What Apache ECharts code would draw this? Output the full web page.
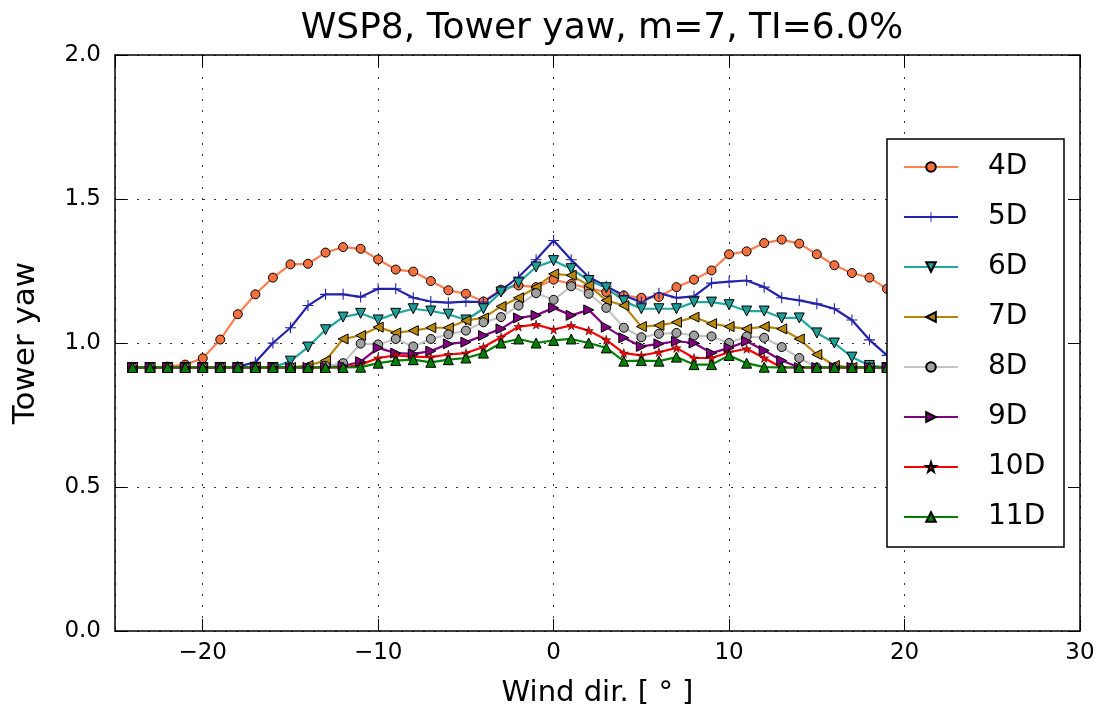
<!DOCTYPE html>
<html>
<head>
<meta charset="utf-8">
<script src="https://cdn.jsdelivr.net/npm/echarts@6/dist/echarts.min.js"></script>
<style>html,body{margin:0;padding:0;background:#fff;}#c{width:1100px;height:716px;}</style>
</head>
<body>
<div id="c"></div>
<script>
// Wind direction (deg), -24 .. 24
const windDir = [-24,-23,-22,-21,-20,-19,-18,-17,-16,-15,-14,-13,-12,-11,-10,-9,-8,-7,-6,-5,-4,-3,-2,-1,0,1,2,3,4,5,6,7,8,9,10,11,12,13,14,15,16,17,18,19,20,21,22,23,24];
const seriesNames = ['4D','5D','6D','7D','8D','9D','10D','11D'];
const yaw4D = [0.915,0.915,0.918,0.925,0.947,1.012,1.100,1.169,1.227,1.273,1.275,1.314,1.333,1.327,1.290,1.255,1.248,1.215,1.183,1.171,1.144,1.185,1.200,1.194,1.220,1.205,1.190,1.177,1.165,1.157,1.160,1.194,1.220,1.252,1.308,1.318,1.347,1.359,1.345,1.308,1.270,1.243,1.227,1.188,1.120,1.050,0.980,0.935,0.918];
const yaw5D = [0.915,0.915,0.915,0.915,0.915,0.915,0.918,0.933,1.000,1.053,1.130,1.169,1.169,1.160,1.188,1.188,1.157,1.144,1.140,1.144,1.142,1.183,1.229,1.289,1.356,1.289,1.229,1.197,1.165,1.142,1.173,1.157,1.162,1.208,1.213,1.217,1.194,1.157,1.148,1.136,1.119,1.080,1.011,0.957,0.920,0.915,0.915,0.915,0.915];
const yaw6D = [0.915,0.915,0.915,0.915,0.915,0.915,0.915,0.915,0.915,0.937,0.986,1.046,1.090,1.103,1.080,1.103,1.119,1.111,1.100,1.080,1.119,1.177,1.209,1.264,1.286,1.258,1.217,1.192,1.146,1.119,1.119,1.119,1.142,1.142,1.133,1.111,1.111,1.087,1.087,1.035,1.000,0.951,0.922,0.915,0.915,0.915,0.915,0.915,0.915];
const yaw7D = [0.915,0.915,0.915,0.915,0.915,0.915,0.915,0.915,0.915,0.915,0.922,0.939,1.014,1.026,1.055,1.035,1.043,1.053,1.053,1.078,1.087,1.127,1.157,1.194,1.240,1.235,1.200,1.148,1.130,1.057,1.061,1.072,1.090,1.067,1.057,1.049,1.057,1.049,1.014,0.960,0.922,0.915,0.915,0.915,0.915,0.915,0.915,0.915,0.915];
const yaw8D = [0.915,0.915,0.915,0.915,0.915,0.915,0.915,0.915,0.915,0.915,0.915,0.920,0.930,0.998,0.995,1.014,0.988,1.014,1.030,1.043,1.072,1.090,1.130,1.173,1.150,1.197,1.171,1.122,1.053,1.020,1.032,1.035,1.026,1.023,1.000,1.023,1.018,0.986,0.948,0.915,0.915,0.915,0.915,0.915,0.915,0.915,0.915,0.915,0.915];
const yaw9D = [0.915,0.915,0.915,0.915,0.915,0.915,0.915,0.915,0.915,0.915,0.915,0.915,0.920,0.935,0.983,0.965,0.962,0.972,0.997,1.003,1.026,1.049,1.087,1.096,1.122,1.096,1.115,1.055,1.018,0.988,0.997,1.006,1.000,0.965,0.983,1.006,0.974,0.939,0.915,0.915,0.915,0.915,0.915,0.915,0.915,0.915,0.915,0.915,0.915];
const yaw10D = [0.915,0.915,0.915,0.915,0.915,0.915,0.915,0.915,0.915,0.915,0.915,0.915,0.915,0.925,0.948,0.957,0.953,0.951,0.960,0.965,0.986,1.020,1.057,1.064,1.047,1.061,1.043,1.011,0.965,0.957,0.968,0.983,0.948,0.948,0.968,0.980,0.948,0.915,0.915,0.915,0.915,0.915,0.915,0.915,0.915,0.915,0.915,0.915,0.915];
const yaw11D = [0.915,0.915,0.915,0.915,0.915,0.915,0.915,0.915,0.915,0.915,0.915,0.915,0.915,0.916,0.930,0.939,0.942,0.933,0.942,0.948,0.965,1.000,1.014,1.000,1.009,1.014,1.000,0.983,0.937,0.939,0.937,0.951,0.925,0.925,0.957,0.930,0.916,0.915,0.915,0.915,0.915,0.915,0.915,0.915,0.915,0.915,0.915,0.915,0.915];
const yTicks = [0, 0.5, 1.0, 1.5, 2.0];

const allValues = [yaw4D,yaw5D,yaw6D,yaw7D,yaw8D,yaw9D,yaw10D,yaw11D];
const STAR = 'path://M50,0L61,35L98,35L68,57L79,91L50,70L21,91L32,57L2,35L39,35Z';
const PLUS = 'path://M0,45H100V55H0Z M45,0H55V100H45Z';
const styles = [
  {line:'#FF7F50', fill:'#F4703F', symbol:'circle', size:9, rot:0, bw:1},
  {line:'#2222AA', fill:'#2222AA', symbol:PLUS, size:11, rot:0, bw:0},
  {line:'#20A8A0', fill:'#1E9E98', symbol:'triangle', size:10, rot:180, bw:1},
  {line:'#B8860B', fill:'#B8860B', symbol:'triangle', size:10, rot:90, bw:1},
  {line:'#C4C4C4', fill:'#A0A0A0', symbol:'circle', size:9, rot:0, bw:1},
  {line:'#800080', fill:'#800080', symbol:'triangle', size:10, rot:-90, bw:1},
  {line:'#FF0000', fill:'#FF0000', symbol:STAR, size:9, rot:0, bw:0.5},
  {line:'#008000', fill:'#008000', symbol:'triangle', size:10, rot:0, bw:1}
];

const series = seriesNames.map((name, i) => ({
  name: name,
  type: 'line',
  xAxisIndex: 0, yAxisIndex: 0,
  data: windDir.map((x, j) => [x, allValues[i][j]]),
  symbol: styles[i].symbol,
  symbolSize: styles[i].size,
  symbolRotate: styles[i].rot,
  showAllSymbol: true,
  lineStyle: {color: styles[i].line, width: 2.2},
  itemStyle: {color: styles[i].fill, borderColor: styles[i].bw ? '#000' : styles[i].fill, borderWidth: styles[i].bw},
  emphasis: {disabled: true},
  animation: false,
  z: 2
}));

const minus = v => (v < 0 ? '\u2212' + (-v) : String(v));
const FONT = 'DejaVu Sans';
const chart = echarts.init(document.getElementById('c'), null, {renderer: 'canvas'});
chart.setOption({
  backgroundColor: '#fff',
  animation: false,
  textStyle: {fontFamily: FONT},
  title: {
    text: 'WSP8, Tower yaw, m=7, TI=6.0%',
    left: 597, textAlign: 'center', top: 6,
    textStyle: {fontFamily: FONT, fontSize: 36, fontWeight: 'normal', color: '#000'}
  },
  grid: {left: 115, top: 55, width: 965, height: 576, containLabel: false},
  xAxis: [{
    type: 'value', min: -25, max: 30, minInterval: 10, maxInterval: 10, position: 'bottom',
    name: 'Wind dir. [ ° ]', nameLocation: 'middle', nameGap: 48,
    nameTextStyle: {fontFamily: FONT, fontSize: 29, color: '#000'},
    axisLine: {show: true, onZero: false, lineStyle: {color: '#000', width: 1.5}},
    axisTick: {show: true, inside: true, length: 12, lineStyle: {color: '#000', width: 1}},
    axisLabel: {showMinLabel: false, formatter: minus, fontFamily: FONT, fontSize: 23, color: '#000', margin: 11},
    splitLine: {show: true, lineStyle: {color: '#333', width: 1, type: [2, 9]}}
  }, {
    type: 'value', min: -25, max: 30, minInterval: 10, maxInterval: 10, position: 'top',
    axisLine: {show: true, onZero: false, lineStyle: {color: '#000', width: 1.5}},
    axisTick: {show: true, inside: true, length: 12, lineStyle: {color: '#000', width: 1}},
    axisLabel: {show: false}, splitLine: {show: false}
  }],
  yAxis: [{
    type: 'value', min: 0, max: 2, interval: 0.5, position: 'left',
    name: 'Tower yaw', nameLocation: 'middle', nameGap: 74, nameRotate: 90,
    nameTextStyle: {fontFamily: FONT, fontSize: 31, color: '#000'},
    axisLine: {show: true, onZero: false, lineStyle: {color: '#000', width: 1.5}},
    axisTick: {show: true, inside: true, length: 12, lineStyle: {color: '#000', width: 1}},
    axisLabel: {formatter: v => v.toFixed(1), fontFamily: FONT, fontSize: 23, color: '#000', margin: 14},
    splitLine: {show: true, lineStyle: {color: '#333', width: 1, type: [2, 9]}}
  }, {
    type: 'value', min: 0, max: 2, interval: 0.5, position: 'right',
    axisLine: {show: true, onZero: false, lineStyle: {color: '#000', width: 1.5}},
    axisTick: {show: true, inside: true, length: 12, lineStyle: {color: '#000', width: 1}},
    axisLabel: {show: false}, splitLine: {show: false}
  }],
  legend: {
    data: seriesNames,
    orient: 'vertical', left: 903, top: 152,
    padding: 0, itemWidth: 54, itemHeight: 12, itemGap: 20,
    symbolRotate: 'inherit',
    selectedMode: false,
    textStyle: {fontFamily: FONT, fontSize: 28, lineHeight: 30, color: '#000', padding: [0, 0, 0, 25]},
    z: 4
  },
  graphic: [{
    type: 'rect', z: 3,
    shape: {x: 887, y: 139, width: 177, height: 408},
    style: {fill: '#fff', stroke: '#000', lineWidth: 1.5}
  }],
  series: series
});
</script>
</body>
</html>
